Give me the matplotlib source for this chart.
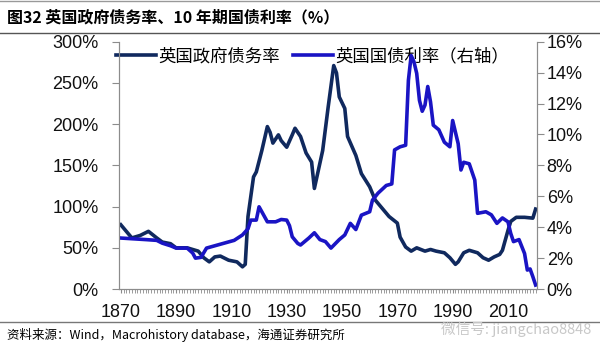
import matplotlib
matplotlib.use('Agg')
import matplotlib.pyplot as plt
from matplotlib.ticker import FuncFormatter, MultipleLocator

plt.rcParams['font.family'] = ['Liberation Sans', 'Noto Sans CJK SC', 'DejaVu Sans']

# 英国政府债务率 (%), 左轴
debt_years = [1870, 1874, 1877, 1880, 1883, 1885, 1888, 1890, 1894, 1898, 1900, 1902,
              1904, 1906, 1909, 1912, 1914, 1915, 1916, 1918, 1919, 1921, 1923, 1924,
              1925, 1927, 1928, 1930, 1932, 1933, 1935, 1937, 1939, 1940, 1943, 1945,
              1947, 1948, 1949, 1951, 1952, 1955, 1957, 1960, 1962, 1965, 1967, 1970,
              1971, 1973, 1975, 1977, 1980, 1982, 1984, 1987, 1989, 1991, 1992, 1994,
              1996, 1999, 2001, 2003, 2005, 2007, 2008, 2010, 2011, 2013, 2016, 2019, 2020]
debt_vals = [78, 62, 65, 70, 62, 57, 55, 50, 50, 46, 38, 33,
             39, 40, 35, 33, 27, 30, 88, 136, 142, 168, 197, 190,
             177, 187, 180, 172, 187, 195, 185, 165, 154, 122, 168, 221,
             271, 262, 233, 219, 185, 162, 140, 124, 108, 96, 88, 80,
             63, 51, 46, 50, 46, 48, 46, 44, 38, 30, 33, 44,
             47, 44, 38, 35, 39, 42, 47, 71, 82, 87, 87, 86, 97]

# 英国10年期国债利率 (%), 右轴
yld_years = [1870, 1879, 1883, 1885, 1888, 1890, 1894, 1896, 1897, 1899, 1901, 1904,
             1907, 1911, 1914, 1916, 1917, 1919, 1920, 1921, 1923, 1926, 1928, 1930,
             1931, 1932, 1934, 1935, 1938, 1940, 1942, 1944, 1946, 1949, 1951, 1953,
             1955, 1957, 1960, 1961, 1963, 1966, 1968, 1969, 1971, 1973, 1974, 1975,
             1976, 1977, 1978, 1979, 1980, 1981, 1982, 1983, 1985, 1987, 1989, 1990,
             1992, 1993, 1994, 1996, 1998, 1999, 2002, 2004, 2006, 2008, 2010, 2011,
             2012, 2014, 2016, 2017, 2018, 2019, 2020]
yld_vals = [3.3, 3.2, 3.15, 2.97, 2.8, 2.65, 2.65, 2.33, 2.0, 2.05, 2.65, 2.8,
            2.95, 3.15, 3.5, 3.9, 4.46, 4.46, 5.32, 5.0, 4.35, 4.35, 4.5, 4.46,
            4.1, 3.38, 2.95, 2.85, 3.3, 3.64, 3.2, 3.07, 2.65, 3.2, 3.5, 4.25,
            3.85, 4.78, 5.0, 5.75, 6.2, 6.7, 6.8, 9.0, 9.2, 9.3, 13.5, 15.1,
            14.7, 13.95, 12.2, 11.5, 11.9, 13.1, 12.1, 10.6, 10.3, 9.5, 9.2, 10.9,
            9.4, 7.7, 8.2, 8.1, 7.05, 4.9, 5.0, 4.8, 4.25, 4.6, 4.35, 3.6,
            3.07, 3.2, 2.3, 1.23, 1.3, 0.8, 0.26]

xlabels = [1870, 1890, 1910, 1930, 1950, 1970, 1990, 2010]

navy = '#10295E'
blue = '#1A14C4'
grey = '#8C8C8C'
cjk = ['Noto Sans CJK SC', 'DejaVu Sans']

fig = plt.figure(figsize=(6, 3.56), dpi=100)
ax = fig.add_axes([0.199, 0.188, 0.696, 0.695])
ax2 = ax.twinx()

l1, = ax.plot(debt_years, debt_vals, color=navy, lw=2.6, label='英国政府债务率')
l2, = ax2.plot(yld_years, yld_vals, color=blue, lw=2.6, label='英国国债利率（右轴）')

ax.set_xlim(1869.5, 2020.5)
ax.set_ylim(0, 300)
ax2.set_ylim(0, 16)
ax.yaxis.set_major_locator(MultipleLocator(50))
ax2.yaxis.set_major_locator(MultipleLocator(2))
ax.yaxis.set_major_formatter(FuncFormatter(lambda v, p: '%d%%' % v))
ax2.yaxis.set_major_formatter(FuncFormatter(lambda v, p: '%d%%' % v))
ax.set_xticks(xlabels)
ax.set_xticklabels([str(y) for y in xlabels])
ax.xaxis.set_minor_locator(MultipleLocator(1))

for a in (ax, ax2):
    for s in a.spines.values():
        s.set_color(grey)
    a.spines['top'].set_visible(False)
    a.tick_params(colors=grey, labelcolor='#111111', labelsize=13, length=5, width=0.8)
ax.tick_params(axis='x', which='both', length=3, pad=8)
ax.tick_params(axis='x', which='minor', color=grey, width=0.6)
ax.tick_params(axis='y', pad=10)
ax2.tick_params(axis='y', pad=2)

leg = ax.legend([l1, l2], ['英国政府债务率', '英国国债利率（右轴）'], loc='upper left',
                bbox_to_anchor=(-0.045, 1.04), ncol=2, frameon=False, handlelength=2.3,
                handletextpad=0.1, columnspacing=0.8, prop={'family': cjk, 'size': 12.5})

# 标题及分隔线
fig.add_artist(plt.Line2D([0, 1], [0.997, 0.997], color='#999999', lw=1))
fig.add_artist(plt.Line2D([0, 1], [0.907, 0.907], color='#555555', lw=1))
fig.add_artist(plt.Line2D([0, 1], [0.096, 0.096], color='#777777', lw=1))
fig.text(0.012, 0.952, '图32 英国政府债务率、10 年期国债利率（%）', fontsize=11.5,
         fontweight='bold', va='center', ha='left', family=cjk)
fig.text(0.012, 0.059, '资料来源：Wind，Macrohistory database，海通证券研究所', fontsize=9,
         va='center', ha='left', family=cjk)
fig.text(0.985, 0.075, '微信号: jiangchao8848', fontsize=10.5, color='#C8C8C8',
         va='center', ha='right', family=cjk)

fig.savefig('out.png', dpi=100)
